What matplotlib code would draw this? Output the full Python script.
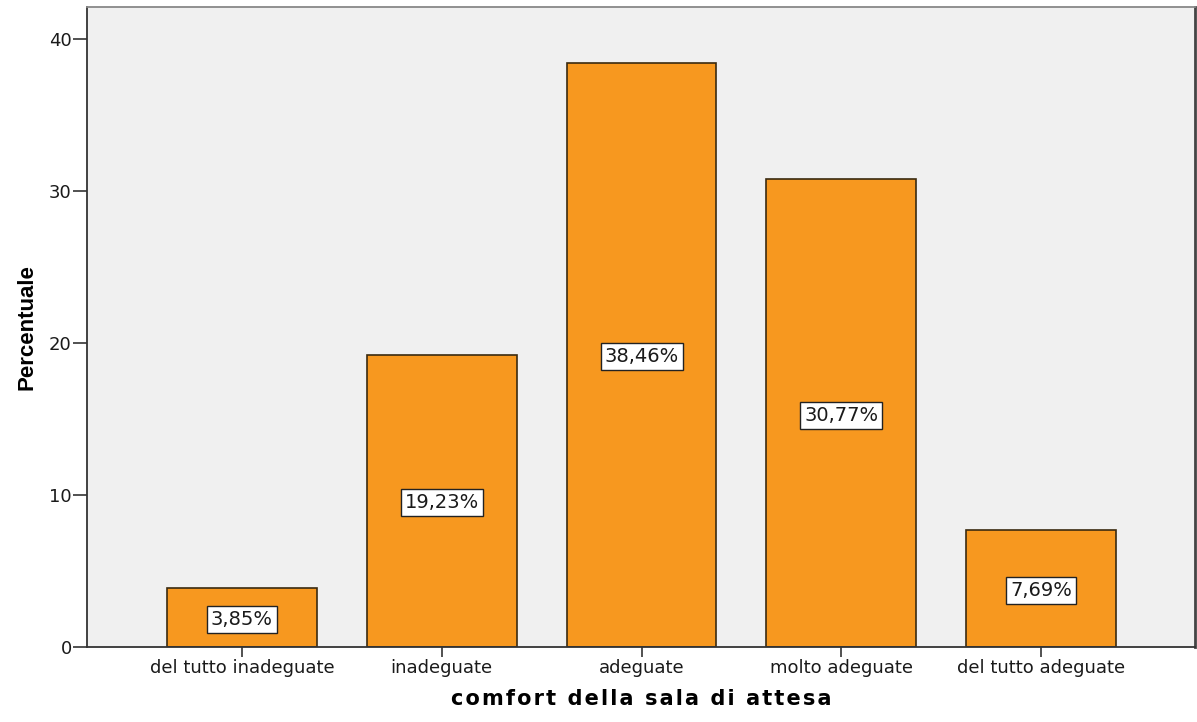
import matplotlib
matplotlib.use("Agg")
import matplotlib.pyplot as plt

categories = ["del tutto inadeguate", "inadeguate", "adeguate", "molto adeguate", "del tutto adeguate"]
percentuali = [3.85, 19.23, 38.46, 30.77, 7.69]
y_ticks = [0, 10, 20, 30, 40]

plt.rcParams["font.family"] = ["DejaVu Sans"]

fig = plt.figure(figsize=(11.97, 7.22), dpi=100)
ax = fig.add_axes([0.0727, 0.1039, 0.9257, 0.8861])
ax.set_facecolor("#F0F0F0")

x = list(range(len(categories)))
ax.bar(x, percentuali, width=0.75, color="#F7981F", edgecolor="#3A2A10", linewidth=1.2, zorder=2)

for xi, v in zip(x, percentuali):
    ax.text(xi, v / 2, f"{v:.2f}%".replace(".", ","), ha="center", va="center_baseline",
            fontsize=14, color="#1a1a1a", zorder=3,
            bbox=dict(boxstyle="square,pad=0.2", facecolor="white", edgecolor="#222222", linewidth=1.0))

ax.set_xlim(-0.775, 4.77)
ax.set_ylim(0, 42.1)
ax.set_xticks(x)
ax.set_xticklabels(categories, fontsize=13, color="#1a1a1a")
ax.set_yticks(y_ticks)
ax.set_yticklabels([str(t) for t in y_ticks], fontsize=13, color="#1a1a1a")
ax.tick_params(axis="x", length=7, width=1.2, color="#333333", pad=2)
ax.tick_params(axis="y", length=10, width=1.2, color="#333333", pad=1)

for side in ["left", "bottom"]:
    ax.spines[side].set_color("#333333")
    ax.spines[side].set_linewidth(1.3)
ax.spines["top"].set_color("#888888")
ax.spines["top"].set_linewidth(1.3)
ax.spines["right"].set_color("#444444")
ax.spines["right"].set_linewidth(2.0)

ax.set_ylabel("Percentuale", fontsize=16, fontweight="bold", family=["Liberation Sans", "DejaVu Sans"], labelpad=8)
xlabel = "\u200a".join("comfort della sala di attesa")
ax.set_xlabel(xlabel, fontsize=15, fontweight="bold", labelpad=8)

fig.savefig("out.png", dpi=100)
